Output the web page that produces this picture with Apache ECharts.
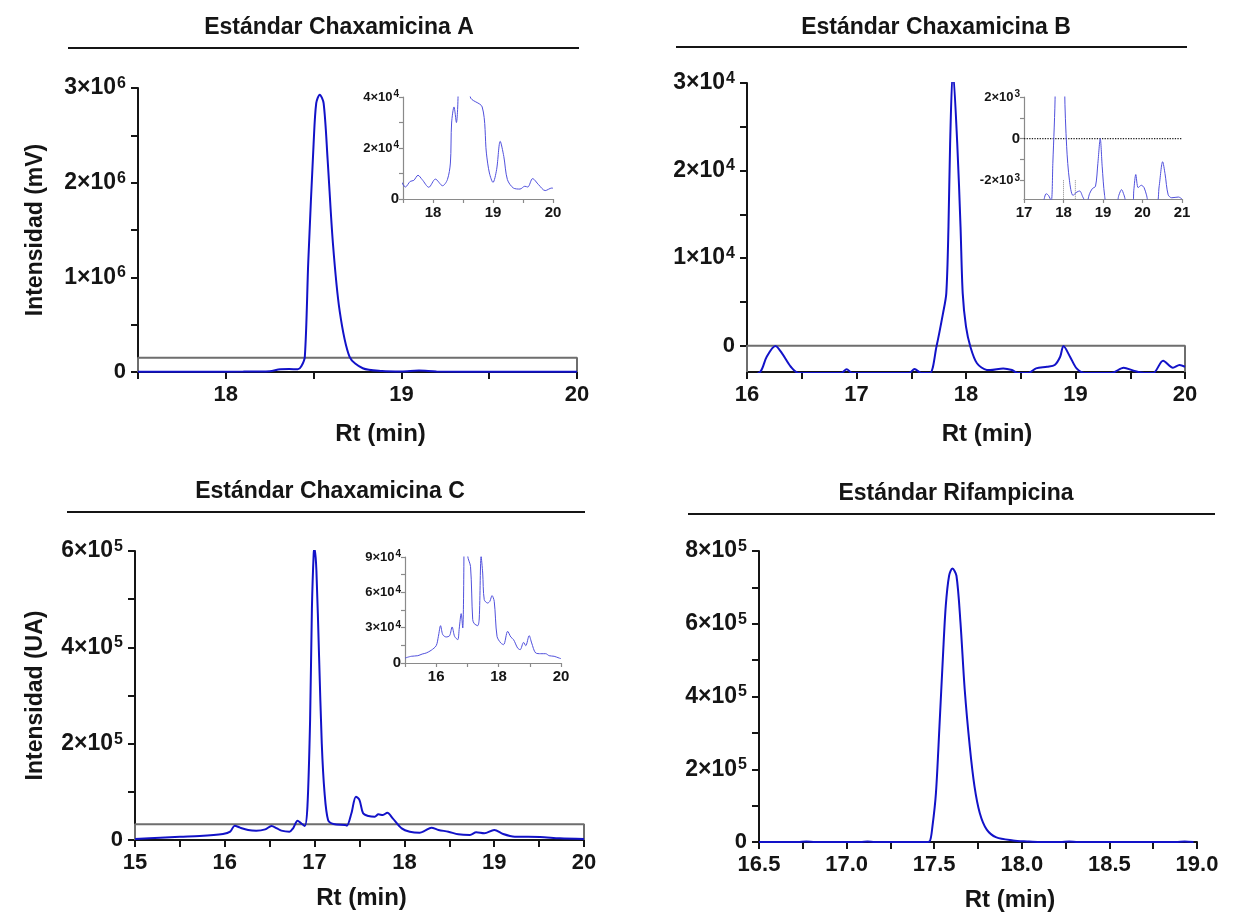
<!DOCTYPE html>
<html><head><meta charset="utf-8">
<script src="https://cdn.jsdelivr.net/npm/echarts@6/dist/echarts.min.js"></script>
<style>html,body{margin:0;padding:0;background:#fff}#c{width:1240px;height:916px}</style>
</head><body><div id="c"></div>
<script>
// ---------- titles ----------
const titles = ['Estándar Chaxamicina A', 'Estándar Chaxamicina B', 'Estándar Chaxamicina C', 'Estándar Rifampicina'];
const xName = 'Rt (min)';
const yNameA = 'Intensidad (mV)';
const yNameC = 'Intensidad (UA)';

// ---------- A: Chaxamicina A ----------
const rtA  = [17.5, 17.8, 18.1, 18.25, 18.31, 18.36, 18.41, 18.43, 18.45, 18.47, 18.5, 18.515, 18.535, 18.557, 18.58, 18.61, 18.648, 18.705, 18.78, 18.89, 19.0, 19.1, 19.2, 19.5, 20.0];
const intA = [3000, 3000, 4000, 8000, 30000, 32000, 28000, 60000, 160000, 1180000, 2410000, 2840000, 2930000, 2840000, 2240000, 1360000, 650000, 160000, 40000, 10000, 5000, 15000, 5000, 3000, 2000];
const boxAx = [17.5, 17.5, 20, 20];
const boxAy = [0, 150000, 150000, 0];
const xTicksA = [17.5, 18, 18.5, 19, 19.5, 20];
const xLabelsA = [18, 19, 20];
const yTicksA = [0, 500000, 1000000, 1500000, 2000000, 2500000, 3000000];
const yLabelsA = [0, 1000000, 2000000, 3000000];
// inset A
const rtAi  = [17.47, 17.54, 17.62, 17.68, 17.75, 17.82, 17.93, 18.04, 18.16, 18.24, 18.29, 18.31, 18.35, 18.39, 18.42, 18.5, 18.58, 18.62, 18.82, 18.89, 18.94, 19.0, 19.06, 19.12, 19.18, 19.24, 19.34, 19.45, 19.53, 19.58, 19.66, 19.76, 19.87, 19.98, 20.0];
const intAi = [6900, 4700, 6900, 7300, 9300, 7600, 4600, 7800, 5200, 7600, 14100, 29800, 36100, 30000, 43000, 300000, 300000, 40200, 36100, 18000, 10200, 6500, 11500, 22600, 16700, 7600, 4300, 3900, 5000, 4700, 8000, 5600, 3300, 4300, 4200];
const xTicksAi = [17.5, 18, 18.5, 19, 19.5, 20];
const xLabelsAi = [18, 19, 20];
const yTicksAi = [0, 10000, 20000, 30000, 40000];
const yLabelsAi = [0, 20000, 40000];

// ---------- B: Chaxamicina B ----------
const rtB  = [16.0, 16.12, 16.18, 16.26, 16.32, 16.4, 16.47, 16.86, 16.91, 16.96, 17.48, 17.53, 17.59, 17.67, 17.73, 17.79, 17.82, 17.84, 17.855, 17.88, 17.92, 17.95, 17.97, 18.0, 18.04, 18.1, 18.19, 18.22, 18.34, 18.42, 18.47, 18.57, 18.64, 18.74, 18.81, 18.86, 18.89, 18.95, 19.01, 19.08, 19.33, 19.44, 19.53, 19.63, 19.71, 19.8, 19.89, 19.95, 20.0];
const intB = [-3600, -3000, -1255, -40, -875, -2400, -3100, -3100, -2700, -3100, -3100, -2660, -3100, -3100, -110, 3700, 5980, 13600, 23100, 31500, 23100, 13600, 5980, 2170, -110, -2000, -2770, -2780, -2590, -2780, -3100, -3100, -2590, -2400, -2200, -1255, -40, -1255, -2590, -3100, -3100, -2510, -2850, -3100, -3100, -1710, -2510, -2200, -2400];
const boxBx = [16, 16, 20, 20];
const boxBy = [-3000, 0, 0, -3000];
const xTicksB = [16, 16.5, 17, 17.5, 18, 18.5, 19, 19.5, 20];
const xLabelsB = [16, 17, 18, 19, 20];
const yTicksB = [0, 5000, 10000, 15000, 20000, 25000, 30000];
const yLabelsB = [0, 10000, 20000, 30000];
// inset B
const rtBi  = [17.5, 17.56, 17.62, 17.69, 17.73, 17.79, 17.9, 18.03, 18.08, 18.15, 18.24, 18.34, 18.41, 18.49, 18.58, 18.66, 18.73, 18.81, 18.87, 18.93, 18.98, 19.04, 19.1, 19.34, 19.4, 19.47, 19.53, 19.61, 19.75, 19.78, 19.83, 19.89, 19.97, 20.04, 20.1, 20.17, 20.36, 20.42, 20.51, 20.57, 20.65, 20.74, 20.91, 21.0];
const intBi = [-3000, -2645, -2726, -3000, -1190, 2300, 30000, 2300, -390, -2000, -2726, -2565, -2516, -2806, -3100, -2645, -2403, -2290, -1190, 0, -1355, -2726, -3100, -3100, -2726, -2450, -2700, -3100, -3100, -2480, -1725, -2355, -2240, -2355, -2700, -3100, -3100, -2320, -1110, -1680, -2700, -2840, -2806, -2900];
const zeroBix = [17, 21];
const zeroBiy = [0, 0];
const dashBi1x = [18.0, 18.0];
const dashBi2x = [18.3, 18.3];
const dashBiy = [-2000, -2900];
const xTicksBi = [17, 18, 19, 20, 21];
const xLabelsBi = [17, 18, 19, 20, 21];
const yTicksBi = [-2000, -1000, 0, 1000, 2000];
const yLabelsBi = [-2000, 0, 2000];

// ---------- C: Chaxamicina C ----------
const rtC  = [15.0, 15.28, 15.5, 15.72, 15.98, 16.06, 16.11, 16.17, 16.26, 16.35, 16.45, 16.52, 16.58, 16.63, 16.72, 16.76, 16.81, 16.85, 16.89, 16.92, 16.95, 16.97, 16.99, 17.0, 17.02, 17.05, 17.08, 17.11, 17.15, 17.21, 17.34, 17.36, 17.41, 17.46, 17.5, 17.54, 17.6, 17.67, 17.71, 17.76, 17.81, 17.87, 17.97, 18.06, 18.17, 18.23, 18.3, 18.38, 18.49, 18.6, 18.73, 18.8, 18.89, 19.0, 19.1, 19.23, 19.51, 19.73, 20.0];
const intC = [2100, 4800, 6900, 8300, 12500, 17300, 29800, 25600, 20800, 19400, 22100, 29100, 24200, 19400, 17300, 24200, 40100, 34600, 29100, 69000, 250000, 480000, 595000, 605000, 560000, 380000, 200000, 100000, 41500, 33200, 31100, 29800, 55400, 90000, 83000, 55400, 49800, 48400, 53300, 51900, 56700, 45000, 24200, 17300, 15200, 19400, 25600, 20800, 17300, 11800, 10400, 15900, 13800, 20800, 12500, 6900, 6200, 3500, 2100];
const boxCx = [15, 15, 20, 20];
const boxCy = [0, 32600, 32600, 0];
const xTicksC = [15, 15.5, 16, 16.5, 17, 17.5, 18, 18.5, 19, 19.5, 20];
const xLabelsC = [15, 16, 17, 18, 19, 20];
const yTicksC = [0, 100000, 200000, 300000, 400000, 500000, 600000];
const yLabelsC = [0, 200000, 400000, 600000];
// inset C
const rtCi  = [15.0, 15.2, 15.41, 15.55, 15.68, 15.84, 16.0, 16.07, 16.14, 16.21, 16.32, 16.43, 16.51, 16.59, 16.69, 16.74, 16.8, 16.85, 16.89, 16.95, 17.01, 17.1, 17.17, 17.22, 17.33, 17.38, 17.44, 17.49, 17.54, 17.65, 17.72, 17.79, 17.86, 17.95, 18.07, 18.16, 18.29, 18.39, 18.48, 18.61, 18.69, 18.8, 18.87, 18.98, 19.06, 19.19, 19.35, 19.51, 19.62, 19.78, 19.94, 20.0];
const intCi = [4200, 5700, 6200, 7600, 8500, 10800, 14700, 22600, 31700, 24100, 22100, 23200, 30600, 22600, 19800, 29700, 41900, 29700, 95000, 400000, 91000, 82000, 36800, 33400, 31700, 38200, 90500, 76400, 53800, 50900, 52400, 57200, 52400, 22600, 17000, 15600, 26900, 22100, 19800, 12700, 11300, 17500, 14700, 23200, 17000, 8500, 7900, 7900, 6200, 5700, 4200, 3700];
const xTicksCi = [15, 16, 17, 18, 19, 20];
const xLabelsCi = [16, 18, 20];
const yTicksCi = [0, 15000, 30000, 45000, 60000, 75000, 90000];
const yLabelsCi = [0, 30000, 60000, 90000];

// ---------- D: Rifampicina ----------
const rtD  = [16.5, 16.72, 16.77, 16.82, 17.08, 17.12, 17.16, 17.45, 17.474, 17.49, 17.51, 17.53, 17.55, 17.566, 17.585, 17.604, 17.627, 17.65, 17.674, 17.703, 17.73, 17.76, 17.8, 17.855, 17.95, 18.03, 18.1, 18.22, 18.27, 18.32, 18.88, 18.93, 18.98];
const intD = [0, 0, 1500, 0, 0, 1500, 0, 0, 1600, 43000, 135000, 318000, 511000, 649000, 732000, 752000, 732000, 603000, 420000, 263000, 153000, 80000, 34000, 12700, 4400, 1600, 0, 0, 1500, 0, 0, 1500, 0];
const xTicksD = [16.5, 16.75, 17, 17.25, 17.5, 17.75, 18, 18.25, 18.5, 18.75, 19];
const xLabelsD = [16.5, 17, 17.5, 18, 18.5, 19];
const yTicksD = [0, 100000, 200000, 300000, 400000, 500000, 600000, 700000, 800000];
const yLabelsD = [0, 200000, 400000, 600000, 800000];

// ---------- helpers ----------
const FONT = '"Liberation Sans", Arial, sans-serif';
const BLUE = '#1212c8';
const IBLUE = '#5050dc';
const INK = '#151515';
const zip = (a, b) => a.map((v, i) => [v, b[i]]);

function sci(v) {
  if (v === 0) return '{z|0}';
  const e = Math.floor(Math.log10(Math.abs(v)) + 1e-9);
  const m = Math.round(v / Math.pow(10, e));
  return '{b|' + m + '×10}{s|' + e + '}';
}
function richSet(big, sup, zero) {
  return {
    b: { fontSize: big, fontWeight: 'bold', fontFamily: FONT, color: INK, lineHeight: big + 2 },
    s: { fontSize: sup, fontWeight: 'bold', fontFamily: FONT, color: INK, verticalAlign: 'top', lineHeight: sup, padding: [0, 0, 0, 1] },
    z: { fontSize: zero, fontWeight: 'bold', fontFamily: FONT, color: INK, lineHeight: big + 2 }
  };
}

const grids = [
  { left: 138, top: 88, width: 439, height: 284 },   // A
  { left: 403, top: 97, width: 150, height: 102 },   // A inset
  { left: 747, top: 83, width: 438, height: 289 },   // B
  { left: 1024, top: 97, width: 158, height: 102 },  // B inset
  { left: 135, top: 551, width: 449, height: 289 },  // C
  { left: 405, top: 557, width: 156, height: 106 },  // C inset
  { left: 759, top: 551, width: 438, height: 291 },  // D
];

function mainX(gi, min, max, ticks, labels, pad, gap, fmt) {
  return {
    type: 'value', gridIndex: gi, min: min, max: max,
    name: xName, nameLocation: 'middle', nameGap: gap,
    nameTextStyle: { fontSize: 24, fontWeight: 'bold', fontFamily: FONT, color: INK, padding: [0, 0, 0, pad] },
    axisLine: { onZero: false, lineStyle: { color: INK, width: 2 } },
    axisTick: { customValues: ticks, length: 7, lineStyle: { color: INK, width: 2 } },
    axisLabel: { customValues: labels, margin: 12, fontSize: 22, fontWeight: 'bold', fontFamily: FONT, color: INK, formatter: fmt || (v => String(v)) },
    splitLine: { show: false }
  };
}
function mainY(gi, min, max, ticks, labels, name, gap) {
  return {
    type: 'value', gridIndex: gi, min: min, max: max,
    name: name || '', nameLocation: 'middle', nameGap: gap || 0, nameRotate: 90,
    nameTextStyle: { fontSize: 23, fontWeight: 'bold', fontFamily: FONT, color: INK },
    axisLine: { show: true, onZero: false, lineStyle: { color: INK, width: 2 } },
    axisTick: { show: true, customValues: ticks, length: 7, lineStyle: { color: INK, width: 2 } },
    axisLabel: { customValues: labels, margin: 12, formatter: sci, rich: richSet(23, 16, 22) },
    splitLine: { show: false }
  };
}
function insetX(gi, min, max, ticks, labels) {
  return {
    type: 'value', gridIndex: gi, min: min, max: max,
    axisLine: { onZero: false, lineStyle: { color: '#8a8a8a', width: 1.2 } },
    axisTick: { customValues: ticks, length: 4, lineStyle: { color: '#8a8a8a', width: 1.2 } },
    axisLabel: { customValues: labels, margin: 6, fontSize: 15, fontWeight: 'bold', fontFamily: FONT, color: INK },
    splitLine: { show: false }
  };
}
function insetY(gi, min, max, ticks, labels) {
  return {
    type: 'value', gridIndex: gi, min: min, max: max,
    axisLine: { show: true, onZero: false, lineStyle: { color: '#8a8a8a', width: 1.2 } },
    axisTick: { show: true, customValues: ticks, length: 4, lineStyle: { color: '#8a8a8a', width: 1.2 } },
    axisLabel: { customValues: labels, margin: 4, formatter: sci, rich: richSet(13, 10, 15) },
    splitLine: { show: false }
  };
}
function trace(gi, x, y, color, w) {
  return {
    type: 'line', xAxisIndex: gi, yAxisIndex: gi, data: zip(x, y),
    showSymbol: false, smooth: 0.3, clip: true, z: 4,
    lineStyle: { color: color, width: w }, silent: true, animation: false
  };
}
function boxLine(gi, x, y, color, w, type) {
  return {
    type: 'line', xAxisIndex: gi, yAxisIndex: gi, data: zip(x, y),
    showSymbol: false, clip: false, z: 3,
    lineStyle: { color: color, width: w, type: type || 'solid' }, silent: true, animation: false
  };
}

const fmtD = v => v.toFixed(1);
const tStyle = { fontSize: 23, fontWeight: 'bold', fontFamily: FONT, color: INK };

const option = {
  backgroundColor: '#ffffff',
  animation: false,
  title: [
    { text: titles[0], left: 334, top: 11, textAlign: 'center', textStyle: tStyle },
    { text: titles[1], left: 931, top: 11, textAlign: 'center', textStyle: tStyle },
    { text: titles[2], left: 325, top: 475, textAlign: 'center', textStyle: tStyle },
    { text: titles[3], left: 951, top: 477, textAlign: 'center', textStyle: tStyle }
  ],
  graphic: [
    { type: 'line', shape: { x1: 68, y1: 48, x2: 579, y2: 48 }, style: { stroke: INK, lineWidth: 2 } },
    { type: 'line', shape: { x1: 676, y1: 47, x2: 1187, y2: 47 }, style: { stroke: INK, lineWidth: 2 } },
    { type: 'line', shape: { x1: 67, y1: 512, x2: 585, y2: 512 }, style: { stroke: INK, lineWidth: 2 } },
    { type: 'line', shape: { x1: 688, y1: 514, x2: 1215, y2: 514 }, style: { stroke: INK, lineWidth: 2 } }
  ],
  grid: grids,
  xAxis: [
    mainX(0, 17.5, 20, xTicksA, xLabelsA, 46, 50),
    insetX(1, 17.5, 20, xTicksAi, xLabelsAi),
    mainX(2, 16, 20, xTicksB, xLabelsB, 42, 50),
    insetX(3, 17, 21, xTicksBi, xLabelsBi),
    mainX(4, 15, 20, xTicksC, xLabelsC, 4, 46),
    insetX(5, 15, 20, xTicksCi, xLabelsCi),
    mainX(6, 16.5, 19, xTicksD, xLabelsD, 64, 46, fmtD)
  ],
  yAxis: [
    mainY(0, 0, 3000000, yTicksA, yLabelsA, yNameA, 91),
    insetY(1, 0, 40000, yTicksAi, yLabelsAi),
    mainY(2, -3000, 30000, yTicksB, yLabelsB),
    insetY(3, -2900, 2000, yTicksBi, yLabelsBi),
    mainY(4, 0, 600000, yTicksC, yLabelsC, yNameC, 88),
    insetY(5, 0, 90000, yTicksCi, yLabelsCi),
    mainY(6, 0, 800000, yTicksD, yLabelsD)
  ],
  series: [
    boxLine(0, boxAx, boxAy, '#6e6e6e', 2),
    trace(0, rtA, intA, BLUE, 2),
    trace(1, rtAi, intAi, IBLUE, 1),
    boxLine(2, boxBx, boxBy, '#6e6e6e', 2),
    trace(2, rtB, intB, BLUE, 2),
    boxLine(3, zeroBix, zeroBiy, '#222222', 1.3, 'dotted'),
    boxLine(3, dashBi1x, dashBiy, '#888888', 1, 'dotted'),
    boxLine(3, dashBi2x, dashBiy, '#888888', 1, 'dotted'),
    trace(3, rtBi, intBi, IBLUE, 1),
    boxLine(4, boxCx, boxCy, '#6e6e6e', 2),
    trace(4, rtC, intC, BLUE, 2),
    trace(5, rtCi, intCi, IBLUE, 1),
    trace(6, rtD, intD, BLUE, 2)
  ]
};

const chart = echarts.init(document.getElementById('c'), null, { renderer: 'canvas', width: 1240, height: 916 });
chart.setOption(option);
</script></body></html>
